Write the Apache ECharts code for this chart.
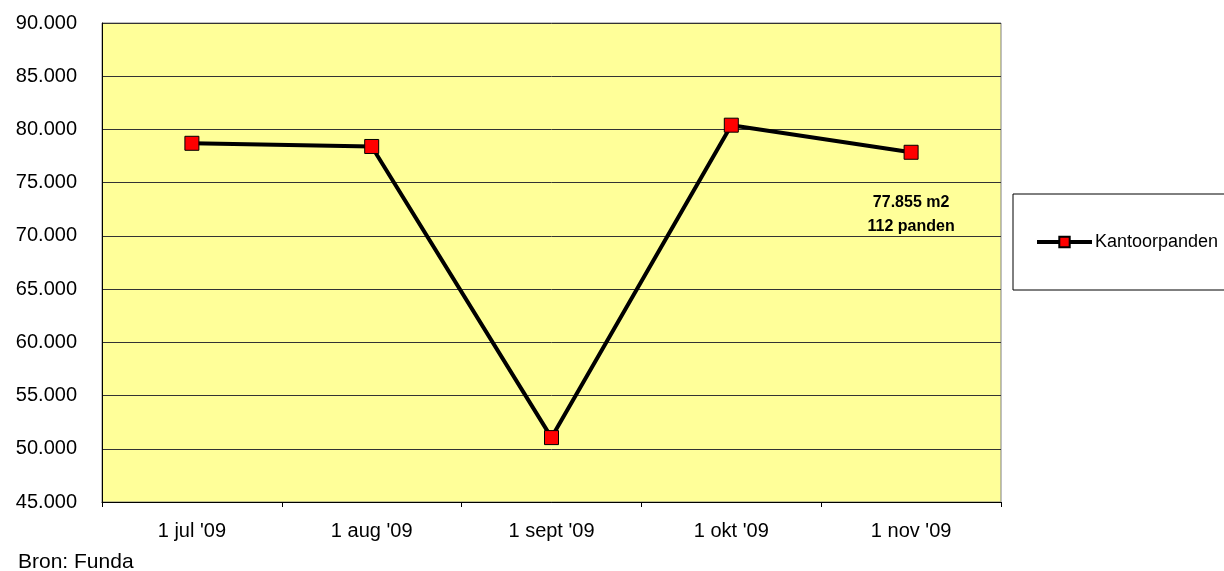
<!DOCTYPE html>
<html>
<head>
<meta charset="utf-8">
<script src="https://cdn.jsdelivr.net/npm/echarts@6/dist/echarts.min.js"></script>
<style>html,body{margin:0;padding:0;background:#fff}#c{width:1224px;height:571px}</style>
</head>
<body>
<div id="c"></div>
<script>
const categories = ["1 jul '09", "1 aug '09", "1 sept '09", "1 okt '09", "1 nov '09"];
const kantoorpanden = [78700, 78400, 51050, 80400, 77855];
const seriesName = 'Kantoorpanden';
const annotationText = '77.855 m2\n112 panden';
const sourceText = 'Bron: Funda';
const yMin = 45000, yMax = 90000, yStep = 5000;

const FONT = 'Arial, "Liberation Sans", sans-serif';
const chart = echarts.init(document.getElementById('c'), null, {renderer: 'canvas'});

const seriesData = kantoorpanden.map((v, i) => {
  if (i === kantoorpanden.length - 1) {
    return {
      value: v,
      label: {
        show: true,
        position: 'inside',
        offset: [0, 62],
        formatter: annotationText,
        fontFamily: FONT,
        fontWeight: 'bold',
        fontSize: 16,
        lineHeight: 24,
        color: '#000',
        align: 'center'
      }
    };
  }
  return v;
});

chart.setOption({
  animation: false,
  backgroundColor: '#fff',
  grid: {
    left: 102, right: 223, top: 23, bottom: 69,
    show: true,
    backgroundColor: '#FFFF99',
    borderColor: '#808080',
    borderWidth: 1
  },
  legend: {
    data: [seriesName],
    left: 1013,
    top: 194,
    orient: 'vertical',
    borderColor: '#000',
    borderWidth: 1,
    borderRadius: 0,
    padding: [39, 10, 39, 22],
    itemWidth: 55,
    itemHeight: 13,
    itemGap: 0,
    lineStyle: {width: 4, color: '#000'},
    textStyle: {fontFamily: FONT, fontSize: 18, color: '#000', padding: [0, 0, 0, -2]}
  },
  xAxis: {
    type: 'category',
    data: categories,
    boundaryGap: true,
    axisLine: {show: true, lineStyle: {color: '#000', width: 1}},
    axisTick: {show: true, alignWithLabel: false, length: 5, lineStyle: {color: '#000'}},
    axisLabel: {fontFamily: FONT, fontSize: 20, color: '#000', margin: 19},
    splitLine: {show: false}
  },
  yAxis: {
    type: 'value',
    min: yMin, max: yMax, interval: yStep,
    axisLine: {show: true, lineStyle: {color: '#000', width: 1}},
    axisTick: {show: false},
    axisLabel: {
      fontFamily: FONT, fontSize: 20, color: '#000', margin: 25,
      formatter: v => (v / 1000).toFixed(3)
    },
    splitLine: {show: true, lineStyle: {color: '#333', width: 1}}
  },
  series: [{
    name: seriesName,
    type: 'line',
    data: seriesData,
    symbol: 'rect',
    symbolSize: 14,
    lineStyle: {color: '#000', width: 4},
    itemStyle: {color: '#FF0000', borderColor: '#000', borderWidth: 1},
    label: {show: false},
    emphasis: {disabled: true}
  }],
  graphic: [{
    type: 'text',
    left: 18,
    top: 552,
    style: {text: sourceText, fontFamily: FONT, fontSize: 21, fill: '#000'}
  }]
});
</script>
</body>
</html>
